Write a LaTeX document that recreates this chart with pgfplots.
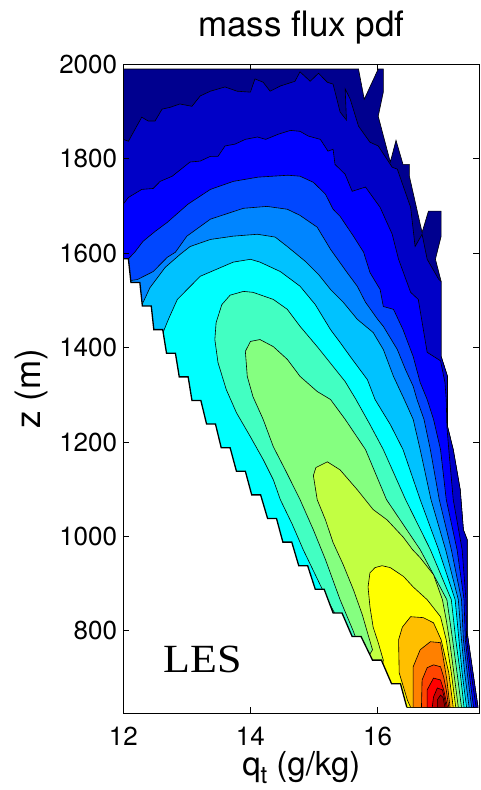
\documentclass[border=0pt]{standalone}
\usepackage{pgfplots}
\pgfplotsset{compat=1.18}
\usepackage{fontspec}
\setmainfont{TeX Gyre Heros}
\newfontfamily\lesfont{Liberation Serif}

% jet-like contour level colours
\definecolor{c0}{rgb}{0,0,0.5625}
\definecolor{c1}{rgb}{0,0,0.78}
\definecolor{c2}{rgb}{0,0,1}
\definecolor{c3}{rgb}{0,0.28,1}
\definecolor{c4}{rgb}{0,0.52,1}
\definecolor{c5}{rgb}{0,0.76,1}
\definecolor{c6}{rgb}{0,1,1}
\definecolor{c7}{rgb}{0.26,1,0.76}
\definecolor{c8}{rgb}{0.52,1,0.5}
\definecolor{c9}{rgb}{0.76,1,0.26}
\definecolor{c10}{rgb}{1,1,0}
\definecolor{c11}{rgb}{1,0.75,0}
\definecolor{c12}{rgb}{1,0.5,0}
\definecolor{c13}{rgb}{1,0.27,0}
\definecolor{c14}{rgb}{1,0,0}
\definecolor{c15}{rgb}{0.8,0,0}
\definecolor{c16}{rgb}{0.62,0,0}

\begin{document}
\begin{tikzpicture}
\useasboundingbox (-123.3pt,-76.7pt) rectangle (356.7pt,713.3pt);
\begin{axis}[
  at={(0pt,0pt)}, anchor=south west,
  scale only axis, width=356pt, height=649pt,
  xmin=12, xmax=17.6, ymin=625.4, ymax=2000,
  xtick={12,14,16}, ytick={800,1000,1200,1400,1600,1800,2000},
  scaled ticks=false,
  /pgf/number format/1000 sep={},
  /pgf/number format/assume math mode=true,
  tick align=inside, tick pos=both,
  xticklabel pos=lower, yticklabel pos=left,
  major tick length=6pt,
  axis on top,
  axis line style={line width=0.9pt},
  every tick/.style={black, line width=0.8pt},
  ticklabel style={font=\fontsize{26}{26}\selectfont},
  xticklabel style={anchor=base, yshift=-32pt},
  yticklabel style={anchor=east, inner sep=0pt, xshift=-6pt},
  title={mass flux pdf},
  title style={at={(0.5,1)}, anchor=base, yshift=22pt, font=\fontsize{35}{35}\selectfont},
  xlabel={q\raisebox{-0.25em}{\fontsize{24}{24}\selectfont t} (g/kg)},
  xlabel style={at={(0.5,0)}, anchor=base, yshift=-62pt, inner sep=0pt, font=\fontsize{33}{33}\selectfont},
  ylabel={z (m)},
  ylabel style={at={(-0.2331,0.5)}, anchor=base, font=\fontsize{35}{35}\selectfont},
  contour/.style={draw=black, line width=0.6pt},
]

% level 0: data domain
\addplot[contour, fill=c0] coordinates {
(12,1990) (15.70,1990) (15.79,1926) (16.01,1990) (16.09,1990) (16.09,1941) (16.01,1890)
(16.20,1793) (16.29,1839) (16.40,1788) (16.50,1788) (16.50,1763) (16.70,1644) (16.80,1689)
(17.00,1689) (17.00,1636) (16.91,1587) (17.00,1540) (17.00,1381) (17.10,1339) (17.10,1233)
(17.19,1184) (17.30,1099) (17.35,1014) (17.41,993) (17.41,796) (17.58,638) (12,638)
} -- cycle;

% level 1
\addplot[contour, fill=c1] coordinates {
(12,638) (12,1841) (12.08,1837) (12.29,1888) (12.39,1880) (12.50,1880) (12.61,1905)
(12.74,1909) (12.89,1916) (13.08,1911) (13.21,1933) (13.37,1943) (13.60,1952) (13.79,1943)
(14.00,1941) (14.07,1969) (14.20,1962) (14.31,1943) (14.47,1954) (14.70,1964) (14.78,1984)
(14.94,1964) (15.07,1981) (15.21,1962) (15.30,1958) (15.41,1899) (15.51,1882) (15.49,1948)
(15.57,1926) (15.70,1869) (15.88,1835) (16.01,1827) (16.23,1782) (16.31,1778) (16.52,1697)
(16.59,1614) (16.70,1640) (16.78,1587) (16.96,1545) (17.00,1540) (17.00,1381) (17.10,1339)
(17.10,1233) (17.19,1184) (17.30,1099) (17.35,1014) (17.41,993) (17.41,796) (17.58,638)
} -- cycle;

% level 2
\addplot[contour, fill=c2] coordinates {
(12,638) (12,1704) (12.08,1718) (12.29,1735) (12.47,1737) (12.58,1752) (12.77,1763)
(13.05,1793) (13.21,1795) (13.37,1805) (13.49,1805) (13.60,1827) (13.76,1831) (13.92,1841)
(14.11,1846) (14.24,1841) (14.44,1852) (14.63,1860) (14.78,1858) (14.91,1848) (15.10,1841)
(15.22,1816) (15.30,1820) (15.33,1788) (15.49,1767) (15.60,1731) (15.81,1740) (16.04,1697)
(16.23,1640) (16.33,1587) (16.52,1517) (16.64,1502) (16.78,1390) (16.99,1372) (17.06,1326)
(17.08,1290) (17.09,1233) (17.12,1184) (17.19,1078) (17.33,972) (17.39,866) (17.40,781)
(17.47,711) (17.55,638)
} -- cycle;

% level 3
\addplot[contour, fill=c3] coordinates {
(12,638) (12,1581) (12.03,1581) (12.18,1602) (12.31,1625) (12.50,1646) (12.69,1665)
(13.02,1704) (13.37,1735) (13.73,1752) (14.12,1761) (14.59,1765) (14.78,1763) (14.99,1750)
(15.18,1725) (15.30,1693) (15.41,1678) (15.62,1636) (15.78,1602) (15.88,1559) (16.04,1523)
(16.09,1487) (16.25,1481) (16.40,1438) (16.56,1381) (16.67,1326) (16.78,1290) (16.88,1248)
(16.99,1184) (17.08,1078) (17.25,972) (17.36,866) (17.38,781) (17.44,711) (17.51,638)
} -- cycle;

% level 4
\addplot[contour, fill=c4] coordinates {
(12,638) (12,1540) (12.22,1544) (12.47,1561) (12.69,1591) (12.82,1602) (13.00,1636)
(13.37,1672) (13.89,1695) (14.26,1699) (14.58,1693) (14.78,1680) (15.05,1655) (15.26,1608)
(15.52,1559) (15.68,1530) (15.81,1496) (16.00,1460) (16.09,1445) (16.31,1396) (16.44,1353)
(16.56,1318) (16.62,1290) (16.73,1248) (16.83,1184) (16.97,1078) (17.16,972) (17.32,866)
(17.35,781) (17.41,711) (17.48,638)
} -- cycle;

% level 5
\addplot[contour, fill=c5] coordinates {
(12,638) (12,1481) (12.26,1481) (12.42,1527) (12.66,1570) (12.89,1597) (13.05,1614)
(13.37,1629) (13.73,1636) (14.11,1640) (14.39,1634) (14.58,1614) (14.86,1583) (15.07,1555)
(15.26,1523) (15.46,1496) (15.68,1460) (15.93,1432) (16.09,1396) (16.25,1339) (16.42,1290)
(16.56,1248) (16.67,1184) (16.84,1078) (17.07,972) (17.27,866) (17.32,781) (17.37,711)
(17.44,638)
} -- cycle;

% level 6
\addplot[contour, fill=c6] coordinates {
(12,638) (12,1417) (12.58,1417) (12.71,1460) (12.85,1502) (13.21,1551) (13.73,1581)
(14.00,1587) (14.15,1581) (14.47,1561) (14.78,1530) (15.02,1491) (15.26,1438) (15.41,1411)
(15.57,1381) (15.84,1332) (15.96,1290) (16.20,1237) (16.40,1184) (16.67,1078) (16.96,972)
(17.22,866) (17.28,781) (17.33,711) (17.40,638)
} -- cycle;

% level 7
\addplot[contour, fill=c7] coordinates {
(12,638) (15.34,834) (15.21,866) (15.02,919) (14.83,972) (14.66,1025) (14.47,1078)
(14.36,1120) (14.20,1163) (14.00,1211) (13.78,1262) (13.62,1311) (13.49,1368) (13.44,1417)
(13.46,1453) (13.55,1491) (13.68,1511) (13.89,1519) (14.04,1517) (14.36,1502) (14.58,1481)
(14.78,1445) (15.05,1402) (15.30,1360) (15.49,1328) (15.66,1290) (15.88,1237) (16.09,1184)
(16.44,1078) (16.83,972) (17.16,866) (17.23,781) (17.30,711) (17.36,638)
} -- cycle;

% level 8
\addplot[contour, fill=c8] coordinates {
(12,638) (15.76,749) (15.61,802) (15.41,866) (15.18,951) (14.99,1014) (14.78,1078)
(14.57,1135) (14.36,1190) (14.20,1248) (14.04,1296) (13.95,1339) (13.92,1392) (14.00,1413)
(14.15,1417) (14.36,1402) (14.58,1375) (14.78,1339) (15.05,1307) (15.26,1290) (15.49,1248)
(15.65,1216) (15.81,1184) (16.14,1078) (16.67,972) (17.09,866) (17.18,781) (17.25,711)
(17.32,638)
} -- cycle;

% level 9
\addplot[contour, fill=c9] coordinates {
(12,638) (15.73,717) (15.92,760) (15.85,792) (15.76,834) (15.62,887) (15.46,940)
(15.30,987) (15.18,1035) (15.05,1078) (14.99,1129) (15.03,1146) (15.21,1158) (15.41,1141)
(15.68,1099) (15.93,1057) (16.15,1035) (16.40,999) (16.55,972) (16.67,955) (16.88,919)
(17.02,866) (17.08,823) (17.13,781) (17.20,711) (17.27,638)
} -- cycle;

% level 10
\addplot[contour, fill=c10] coordinates {
(16.00,638) (16.01,675) (16.09,738) (16.01,775) (15.93,808) (15.88,851) (15.85,893)
(15.88,923) (15.96,934) (16.07,938) (16.20,934) (16.41,915) (16.56,893) (16.78,866)
(16.99,830) (17.08,781) (17.16,711) (17.23,638)
} -- cycle;

% level 11
\addplot[contour, fill=c11] coordinates {
(16.52,638) (16.47,653) (16.34,711) (16.33,781) (16.39,808) (16.52,830) (16.72,828)
(16.88,817) (17.00,781) (17.12,711) (17.19,638)
} -- cycle;

% level 12
\addplot[contour, fill=c12] coordinates {
(16.56,638) (16.56,724) (16.67,760) (16.83,777) (16.99,775) (17.03,745) (17.09,696)
(17.14,638)
} -- cycle;

% level 13
\addplot[contour, fill=c13] coordinates {
(16.69,638) (16.70,696) (16.78,722) (16.88,728) (16.99,724) (17.04,702) (17.08,675)
(17.12,638)
} -- cycle;

% level 14
\addplot[contour, fill=c14] coordinates {
(16.78,638) (16.78,675) (16.88,700) (16.99,696) (17.04,675) (17.10,638)
} -- cycle;

% level 15
\addplot[contour, fill=c15] coordinates {
(16.86,638) (16.88,660) (16.94,679) (17.02,675) (17.05,658) (17.08,638)
} -- cycle;

% level 16
\addplot[contour, fill=c16] coordinates {
(16.94,638) (16.94,654) (16.99,664) (17.03,659) (17.06,638)
} -- cycle;

% no data below the stepped edge
\addplot[fill=white, draw=none] coordinates {
(12.00,1588) (12.08,1588) (12.12,1538) (12.26,1538) (12.30,1488) (12.44,1488) (12.48,1438)
(12.62,1438) (12.68,1388) (12.82,1388) (12.88,1338) (13.02,1338) (13.08,1288) (13.22,1288)
(13.31,1238) (13.45,1238) (13.54,1188) (13.68,1188) (13.78,1138) (13.92,1138) (14.02,1088)
(14.16,1088) (14.27,1038) (14.41,1038) (14.51,988) (14.65,988) (14.76,938) (14.90,938)
(15.02,888) (15.16,888) (15.30,838) (15.44,838) (15.60,788) (15.74,788) (15.92,738)
(16.06,738) (16.22,688) (16.36,688) (16.46,638) (16.46,620) (11.9,620) (11.9,1588)
} -- cycle;

% stepped edge, where the contour lines crowd together
\addplot[black, line width=1.3pt] coordinates {
(12.00,1588) (12.08,1588) (12.12,1538) (12.26,1538) (12.30,1488) (12.44,1488) (12.48,1438)
(12.62,1438) (12.68,1388) (12.82,1388) (12.88,1338) (13.02,1338) (13.08,1288) (13.22,1288)
(13.31,1238) (13.45,1238) (13.54,1188) (13.68,1188) (13.78,1138) (13.92,1138) (14.02,1088)
(14.16,1088) (14.27,1038) (14.41,1038) (14.51,988) (14.65,988) (14.76,938) (14.90,938)
(15.02,888) (15.16,888) (15.30,838) (15.44,838) (15.60,788) (15.74,788) (15.92,738)
(16.06,738) (16.22,688) (16.36,688) (16.46,638)
};

\node[anchor=base west, inner sep=0pt, font=\lesfont\fontsize{40}{40}\selectfont]
  at (axis cs:12.63,711) {\scalebox{1.1}[1]{LES}};
\end{axis}
\end{tikzpicture}
\end{document}
